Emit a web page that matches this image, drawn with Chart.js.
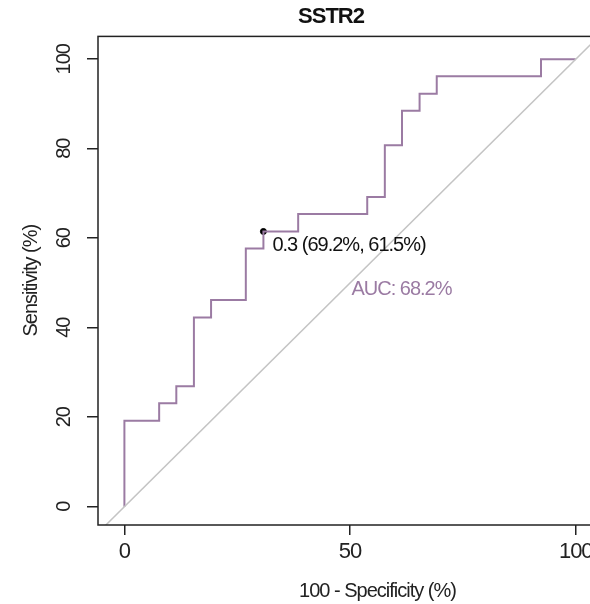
<!DOCTYPE html>
<html>
<head>
<meta charset="utf-8">
<script src="https://cdn.jsdelivr.net/npm/chart.js@4"></script>
<style>
  html, body { margin: 0; padding: 0; background: #fff; overflow: hidden; }
  #wrap { width: 590px; height: 604px; overflow: hidden; }
</style>
</head>
<body>
<div id="wrap"><canvas id="rocChart" width="662" height="604"></canvas></div>
<script>
// ROC curve corners, 100 - specificity (%) and sensitivity (%)
const fprPct  = [0, 0, 7.7, 7.7, 11.5, 11.5, 15.4, 15.4, 19.2, 19.2, 26.9, 26.9, 30.8, 30.8, 38.5, 38.5, 53.8, 53.8, 57.7, 57.7, 61.5, 61.5, 65.4, 65.4, 69.2, 69.2, 92.3, 92.3, 100];
const sensPct = [0, 19.2, 19.2, 23.1, 23.1, 26.9, 26.9, 42.3, 42.3, 46.2, 46.2, 57.7, 57.7, 61.5, 61.5, 65.4, 65.4, 69.2, 69.2, 80.8, 80.8, 88.5, 88.5, 92.3, 92.3, 96.2, 96.2, 100, 100];

// best threshold point
const thresholdPoint = [30.8, 61.5];
const thresholdLabel = '0.3 (69.2%, 61.5%)';
const aucLabel = 'AUC: 68.2%';
const aucPos = [50.3, 48.6];

const xTicks = [0, 50, 100];
const yTicks = [0, 20, 40, 60, 80, 100];

const purple = '#9b7ba3';
const axisColor = '#222';
const fontFamily = 'Arial, "Liberation Sans", sans-serif';

const rocPoints = fprPct.map((x, i) => ({ x: x, y: sensPct[i] }));

// tight text like the R output
const tightText = {
  id: 'tightText',
  beforeUpdate(chart) { chart.ctx.letterSpacing = '-1px'; },
  beforeDraw(chart) { chart.ctx.letterSpacing = '-1px'; }
};

const boxAndText = {
  id: 'boxAndText',
  afterDatasetsDraw(chart) {
    const ctx = chart.ctx;
    const a = chart.chartArea;
    const xs = chart.scales.x, ys = chart.scales.y;
    ctx.save();
    ctx.letterSpacing = '-1px';
    ctx.strokeStyle = axisColor;
    ctx.lineWidth = 1.5;
    ctx.strokeRect(a.left, a.top, a.right - a.left, a.bottom - a.top);

    ctx.font = '20px ' + fontFamily;
    ctx.textBaseline = 'middle';
    ctx.textAlign = 'left';
    ctx.fillStyle = '#111';
    const px = xs.getPixelForValue(thresholdPoint[0]);
    const py = ys.getPixelForValue(thresholdPoint[1]);
    ctx.fillText(thresholdLabel, px + 9, py + 14);

    ctx.fillStyle = purple;
    ctx.fillText(aucLabel, xs.getPixelForValue(aucPos[0]), ys.getPixelForValue(aucPos[1]));
    ctx.restore();
  }
};

const config = {
  type: 'scatter',
  data: {
    datasets: [
      {
        label: 'reference',
        data: [{ x: -10, y: -10 }, { x: 130, y: 130 }],
        showLine: true,
        borderColor: '#c4c4c4',
        borderWidth: 1.5,
        pointRadius: 0
      },
      {
        label: 'SSTR2',
        data: rocPoints,
        showLine: true,
        borderColor: purple,
        borderWidth: 2,
        pointRadius: 0
      },
      {
        label: 'threshold',
        data: [{ x: thresholdPoint[0], y: thresholdPoint[1] }],
        pointRadius: 3,
        pointBackgroundColor: '#000',
        pointBorderColor: '#000'
      }
    ]
  },
  options: {
    responsive: false,
    animation: false,
    layout: { padding: 0 },
    plugins: {
      legend: { display: false },
      tooltip: { enabled: false },
      title: {
        display: true,
        text: 'SSTR2',
        color: '#111',
        font: { family: fontFamily, size: 22, weight: 'bold', lineHeight: 1.2 },
        padding: { top: 4, bottom: 6 }
      }
    },
    scales: {
      x: {
        type: 'linear',
        min: -5.85,
        max: 118.0,
        afterBuildTicks: (s) => { s.ticks = xTicks.map(v => ({ value: v })); },
        afterFit: (s) => { s.height = 79; },
        grid: { drawOnChartArea: false, drawTicks: true, tickLength: 10, color: axisColor, lineWidth: 1.5 },
        border: { display: false },
        ticks: { color: '#222', padding: 4, maxRotation: 0, font: { family: fontFamily, size: 22 } },
        title: {
          display: true,
          text: '100 - Specificity (%)',
          color: '#222',
          font: { family: fontFamily, size: 20 },
          padding: { top: 0, bottom: 1 }
        }
      },
      y: {
        type: 'linear',
        min: -4.1,
        max: 105.1,
        afterBuildTicks: (s) => { s.ticks = yTicks.map(v => ({ value: v })); },
        afterFit: (s) => { s.width = 98; },
        grid: { drawOnChartArea: false, drawTicks: true, tickLength: 11, color: axisColor, lineWidth: 1.5 },
        border: { display: false },
        ticks: { color: '#222', padding: 7, minRotation: 90, maxRotation: 90, crossAlign: 'center', font: { family: fontFamily, size: 20 } },
        title: {
          display: true,
          text: 'Sensitivity (%)',
          color: '#222',
          font: { family: fontFamily, size: 20 },
          padding: { top: 19, bottom: 0 }
        }
      }
    }
  },
  plugins: [tightText, boxAndText]
};

const rocChart = new Chart(document.getElementById('rocChart'), config);
</script>
</body>
</html>
